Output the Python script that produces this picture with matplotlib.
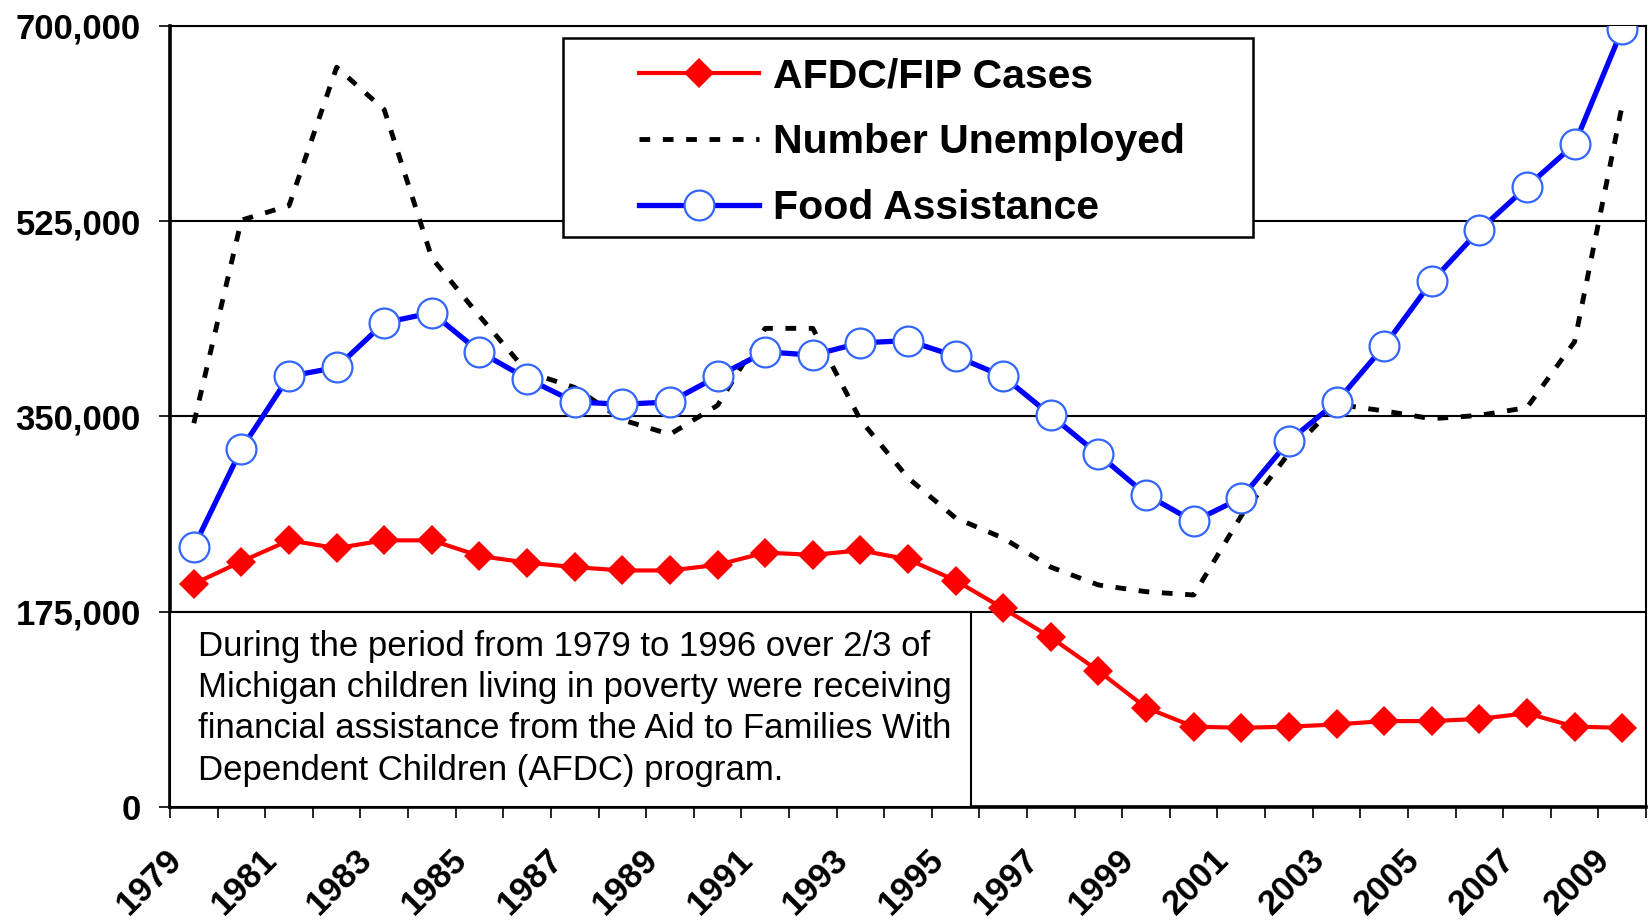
import numpy as np
import matplotlib
matplotlib.use("Agg")
import matplotlib.pyplot as plt
from matplotlib.patches import Rectangle
from matplotlib.transforms import ScaledTranslation
from matplotlib.ticker import FuncFormatter

plt.rcParams['font.family'] = ['Liberation Sans', 'DejaVu Sans']

# Données
years = list(range(1979, 2010))
afdc_cases = [200000, 220000, 239000, 232000, 239000, 239000, 225000, 219000,
              215000, 212000, 212000, 217000, 228000, 226000, 230000, 222000,
              203000, 178000, 152000, 122000, 89000, 72000, 71000, 72000,
              74000, 77000, 77000, 79000, 84000, 72000, 71000]
unemployed = [344000, 526000, 539000, 663000, 625000, 492000, 440000, 390000,
              376000, 347000, 334000, 360000, 429000, 429000, 347000, 295000,
              259000, 241000, 215000, 199000, 193000, 190000, 261000, 317000,
              361000, 355000, 348000, 351000, 358000, 417000, 629000]
food_assistance = [233000, 321000, 386000, 394000, 434000, 443000, 408000, 384000,
                   363000, 361000, 363000, 386000, 408000, 405000, 416000, 418000,
                   404000, 386000, 351000, 316000, 280000, 256000, 277000, 328000,
                   363000, 413000, 471000, 517000, 556000, 594000, 697000]
y_ticks = [0, 175000, 350000, 525000, 700000]
labels = ["AFDC/FIP Cases", "Number Unemployed", "Food Assistance"]
note = ("During the period from 1979 to 1996 over 2/3 of\n"
        "Michigan children living in poverty were receiving\n"
        "financial assistance from the Aid to Families With\n"
        "Dependent Children (AFDC) program.")

x = np.arange(len(years))

fig = plt.figure(figsize=(16.49, 9.24), dpi=100)
ax = fig.add_axes([170 / 1649, 1 - 807 / 924, 1476 / 1649, 781 / 924])

ax.plot(x, afdc_cases, color='#FF0000', lw=3, marker='D', ms=15, mew=0,
        mfc='#FF0000', label=labels[0], zorder=3)
ax.plot(x, unemployed, color='black', lw=3.5, ls=(0, (2.2, 2.6)), label=labels[1], zorder=2)
ax.plot(x, food_assistance, color='#0000FF', lw=3.8, marker='o', ms=21.5,
        mfc='white', mec='#3366FF', mew=1.6, label=labels[2], zorder=4)

ax.set_xlim(-0.5, len(years) - 0.5)
ax.set_ylim(0, 700000)
ax.set_yticks(y_ticks)
ax.yaxis.set_major_formatter(FuncFormatter(lambda v, p: f"{int(v):,}"))
ax.grid(axis='y', color='black', lw=1.5, zorder=0)
ax.tick_params(axis='y', length=8, width=1.2, pad=13, labelsize=25)

ax.set_xticks(x[::2])
ax.set_xticklabels([str(y) for y in years[::2]], rotation=45, ha='right',
                   va='top', rotation_mode='anchor')
ax.set_xticks(np.arange(-0.5, len(years)), minor=True)
ax.tick_params(axis='x', which='major', length=0, pad=26, labelsize=25)
ax.tick_params(axis='x', which='minor', length=8, width=1.2)
for lab in ax.get_xticklabels() + ax.get_yticklabels():
    lab.set_fontweight('bold')
for lab in ax.get_xticklabels():
    lab.set_transform(lab.get_transform() + ScaledTranslation(-0.29, 0, fig.dpi_scale_trans))

for side in ['left', 'bottom']:
    ax.spines[side].set_linewidth(2.6)
for side in ['top', 'right']:
    ax.spines[side].set_linewidth(1.5)

# cadre de la légende
ax.add_patch(Rectangle((0.2664, 0.730), 0.4673, 0.2552, transform=ax.transAxes,
                       facecolor='white', edgecolor='black', lw=1.8, zorder=5))
leg = ax.legend(loc='upper left', bbox_to_anchor=(0.318, 0.960), frameon=False,
                borderpad=0, borderaxespad=0, handlelength=2.93, handletextpad=0.34,
                labelspacing=0.68, prop={'weight': 'bold', 'size': 29.5})
leg.set_zorder(6)

# encadré de texte
ax.add_patch(Rectangle((0, 0), 0.543, 0.25, transform=ax.transAxes,
                       facecolor='white', edgecolor='black', lw=1.5, zorder=5))
ax.text(0.0188, 0.227, note, transform=ax.transAxes, ha='left', va='top',
        fontsize=25, linespacing=1.32, zorder=6)

fig.savefig("out.png", dpi=100)
